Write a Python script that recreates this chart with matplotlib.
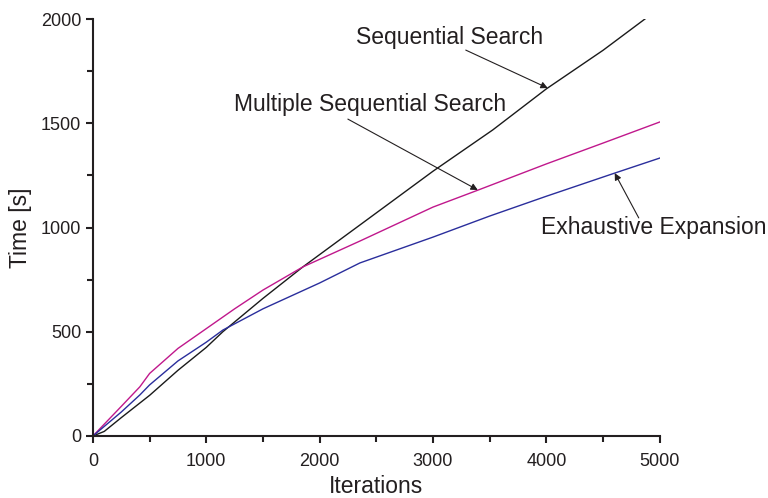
import matplotlib
matplotlib.use("Agg")
import matplotlib.pyplot as plt
from matplotlib.ticker import MultipleLocator

plt.rcParams['font.family'] = ['Liberation Sans', 'DejaVu Sans']

# Sequential Search (black)
seq_x = [0, 100, 250, 500, 750, 1000, 1146, 1500, 1852, 2355, 3000, 3527, 4000, 4500, 4894]
seq_y = [0, 22, 88, 195, 315, 425, 500, 660, 811, 1012, 1270, 1468, 1665, 1850, 2010]

# Multiple Sequential Search (magenta)
mss_x = [0, 250, 414, 500, 750, 1000, 1250, 1500, 1852, 2355, 3000, 3400, 4000, 4500, 5000]
mss_y = [0, 142, 236, 300, 420, 515, 610, 700, 811, 935, 1098, 1180, 1305, 1405, 1506]

# Exhaustive Expansion (blue)
exh_x = [0, 250, 414, 500, 750, 1000, 1146, 1500, 2000, 2355, 3000, 3500, 4000, 4603, 5000]
exh_y = [0, 115, 197, 245, 360, 450, 508, 610, 734, 830, 954, 1055, 1150, 1261, 1333]

x_ticks = [0, 1000, 2000, 3000, 4000, 5000]
y_ticks = [0, 500, 1000, 1500, 2000]

fig = plt.figure(figsize=(7.68, 4.98), dpi=100)
ax = fig.add_axes([0.121, 0.1245, 0.738, 0.8373])

ax.plot(seq_x, seq_y, color='#1a1a1a', lw=1.0)
ax.plot(mss_x, mss_y, color='#c0188c', lw=1.0)
ax.plot(exh_x, exh_y, color='#2a2e9c', lw=1.0)

ax.set_xlim(0, 5000)
ax.set_ylim(0, 2000)
ax.set_xticks(x_ticks)
ax.set_yticks(y_ticks)
ax.xaxis.set_minor_locator(MultipleLocator(500))
ax.yaxis.set_minor_locator(MultipleLocator(250))
for s in ['top', 'right']:
    ax.spines[s].set_visible(False)
for s in ['left', 'bottom']:
    ax.spines[s].set_linewidth(1.5)
    ax.spines[s].set_color('#231f20')
ax.tick_params(which='major', direction='out', length=5, width=1.5, colors='#231f20', labelsize=13)
ax.tick_params(axis='x', which='major', pad=7)
ax.tick_params(which='minor', direction='out', length=4, width=1.5, colors='#231f20')
ax.set_xlabel('Iterations', fontsize=16.5, color='#231f20', labelpad=4)
ax.set_ylabel('Time [s]', fontsize=16.5, color='#231f20', labelpad=6)

ap = dict(arrowstyle='-|>', lw=0.8, color='#231f20', mutation_scale=10, shrinkA=0, shrinkB=0)
ax.text(3148, 1909, 'Sequential Search', fontsize=16.5, ha='center', va='center', color='#231f20')
ax.annotate('', xy=(4012, 1669), xytext=(3289, 1851), arrowprops=ap)
ax.text(2443, 1592, 'Multiple Sequential Search', fontsize=16.5, ha='center', va='center', color='#231f20')
ax.annotate('', xy=(3395, 1180), xytext=(2249, 1520), arrowprops=ap)
ax.text(4946, 998, 'Exhaustive Expansion', fontsize=16.5, ha='center', va='center', color='#231f20', clip_on=False)
ax.annotate('', xy=(4603, 1261), xytext=(4815, 1046), arrowprops=ap, annotation_clip=False)

fig.savefig('out.png', dpi=100)
